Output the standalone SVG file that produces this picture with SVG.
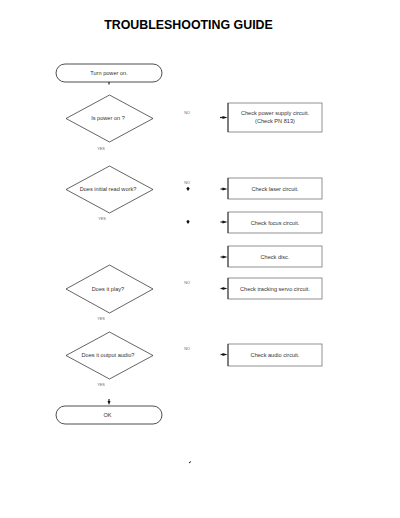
<svg xmlns="http://www.w3.org/2000/svg" width="400" height="518" viewBox="0 0 400 518">
<defs>
<style>
.title{font-family:"Liberation Sans",Arial,sans-serif;font-weight:bold;font-size:12.4px;fill:#000}
.t{font-family:"Liberation Sans",Arial,sans-serif;font-size:5.6px;fill:#333;text-anchor:middle}
.lbl{font-family:"Liberation Sans",Arial,sans-serif;font-size:3.8px;fill:#666;text-anchor:middle}
.term{fill:#fff;stroke:#222;stroke-width:0.8}
.dia{fill:#fff;stroke:#222;stroke-width:0.7}
.box{fill:#fff;stroke:#777;stroke-width:0.8}
.edge{stroke:#222;stroke-width:1.2}
.ah{fill:#111}
</style>
</defs>
<rect width="400" height="518" fill="#fff"/>
<text class="title" x="188.5" y="29" text-anchor="middle">TROUBLESHOOTING GUIDE</text>

<g id="start"><rect class="term" x="56" y="64" width="106" height="18" rx="9"/><text class="t" x="109" y="75">Turn power on.</text></g>
<g id="q1"><polygon class="dia" points="109.5,95 153,118.5 109.5,142 66,118.5"/><text class="t" x="108" y="120">Is power on ?</text></g>
<g id="b1"><rect class="box" x="228" y="103" width="94" height="29"/><line x1="228" y1="103" x2="228" y2="132" stroke="#222" stroke-width="0.9"/><text class="t" x="275" y="115">Check power supply circuit.</text><text class="t" x="275" y="122.5">(Check PN 813)</text></g>
<g id="q2"><polygon class="dia" points="109.5,166 153,189.5 109.5,213 66,189.5"/><text class="t" x="108" y="191.3">Does initial read work?</text></g>
<g id="b2"><rect class="box" x="228" y="178" width="94" height="21"/><line x1="228" y1="178" x2="228" y2="199" stroke="#222" stroke-width="0.9"/><text class="t" x="275" y="190.5">Check laser circuit.</text></g>
<g id="b3"><rect class="box" x="228" y="212" width="94" height="21"/><line x1="228" y1="212" x2="228" y2="233" stroke="#222" stroke-width="0.9"/><text class="t" x="275" y="224.5">Check focus circuit.</text></g>
<g id="b4"><rect class="box" x="228" y="246" width="94" height="21"/><line x1="228" y1="246" x2="228" y2="267" stroke="#222" stroke-width="0.9"/><text class="t" x="275" y="258.5">Check disc.</text></g>
<g id="b5"><rect class="box" x="228" y="278" width="94" height="21"/><line x1="228" y1="278" x2="228" y2="299" stroke="#222" stroke-width="0.9"/><text class="t" x="275" y="290.5">Check tracking servo circuit.</text></g>
<g id="q3"><polygon class="dia" points="109.5,265 153,289 109.5,313 66,289"/><text class="t" x="108" y="291">Does it play?</text></g>
<g id="q4"><polygon class="dia" points="109.5,332 153,355.5 109.5,379 66,355.5"/><text class="t" x="108" y="357.3">Does it output audio?</text></g>
<g id="b6"><rect class="box" x="228" y="344" width="94" height="22"/><line x1="228" y1="344" x2="228" y2="366" stroke="#222" stroke-width="0.9"/><text class="t" x="275" y="356.5">Check audio circuit.</text></g>
<g id="ok"><rect class="term" x="56" y="406" width="106" height="18" rx="9"/><text class="t" x="107.5" y="417">OK</text></g>

<g id="labels">
<text class="lbl" x="187" y="114">NO</text>
<text class="lbl" x="187" y="184">NO</text>
<text class="lbl" x="187" y="284">NO</text>
<text class="lbl" x="187" y="350">NO</text>
<text class="lbl" x="101" y="150">YES</text>
<text class="lbl" x="102" y="220">YES</text>
<text class="lbl" x="101" y="320">YES</text>
<text class="lbl" x="101" y="386">YES</text>
</g>

<g id="connectors">
<line class="edge" x1="109" y1="82" x2="109" y2="84.5"/>
<line class="edge" x1="220" y1="117.5" x2="223" y2="117.5"/><polygon class="ah" points="227.5,117.5 222.5,116 222.5,119"/>
<line class="edge" x1="220.5" y1="189" x2="223" y2="189"/><polygon class="ah" points="227.5,189 222.5,187.5 222.5,190.5"/>
<line class="edge" x1="220.5" y1="222" x2="223" y2="222"/><polygon class="ah" points="227.5,222 222.5,220.5 222.5,223.5"/>
<line class="edge" x1="220.5" y1="257" x2="223" y2="257"/><polygon class="ah" points="227.5,257 222.5,255.5 222.5,258.5"/>
<line class="edge" x1="220.5" y1="288.5" x2="223" y2="288.5"/><polygon class="ah" points="227.5,288.5 222.5,287 222.5,290"/>
<line class="edge" x1="220.5" y1="354.5" x2="223" y2="354.5"/><polygon class="ah" points="227.5,354.5 222.5,353 222.5,356"/>
<polygon class="ah" points="188,191 186.3,188.5 188,186.8 189.7,188.5"/>
<polygon class="ah" points="188,224 186.3,221.5 188,219.8 189.7,221.5"/>
<line class="edge" x1="109" y1="399" x2="109" y2="402"/><polygon class="ah" points="109,405 107.5,401 110.5,401"/>
<line x1="189" y1="463" x2="191" y2="461.5" stroke="#111" stroke-width="1"/>
</g>
</svg>
